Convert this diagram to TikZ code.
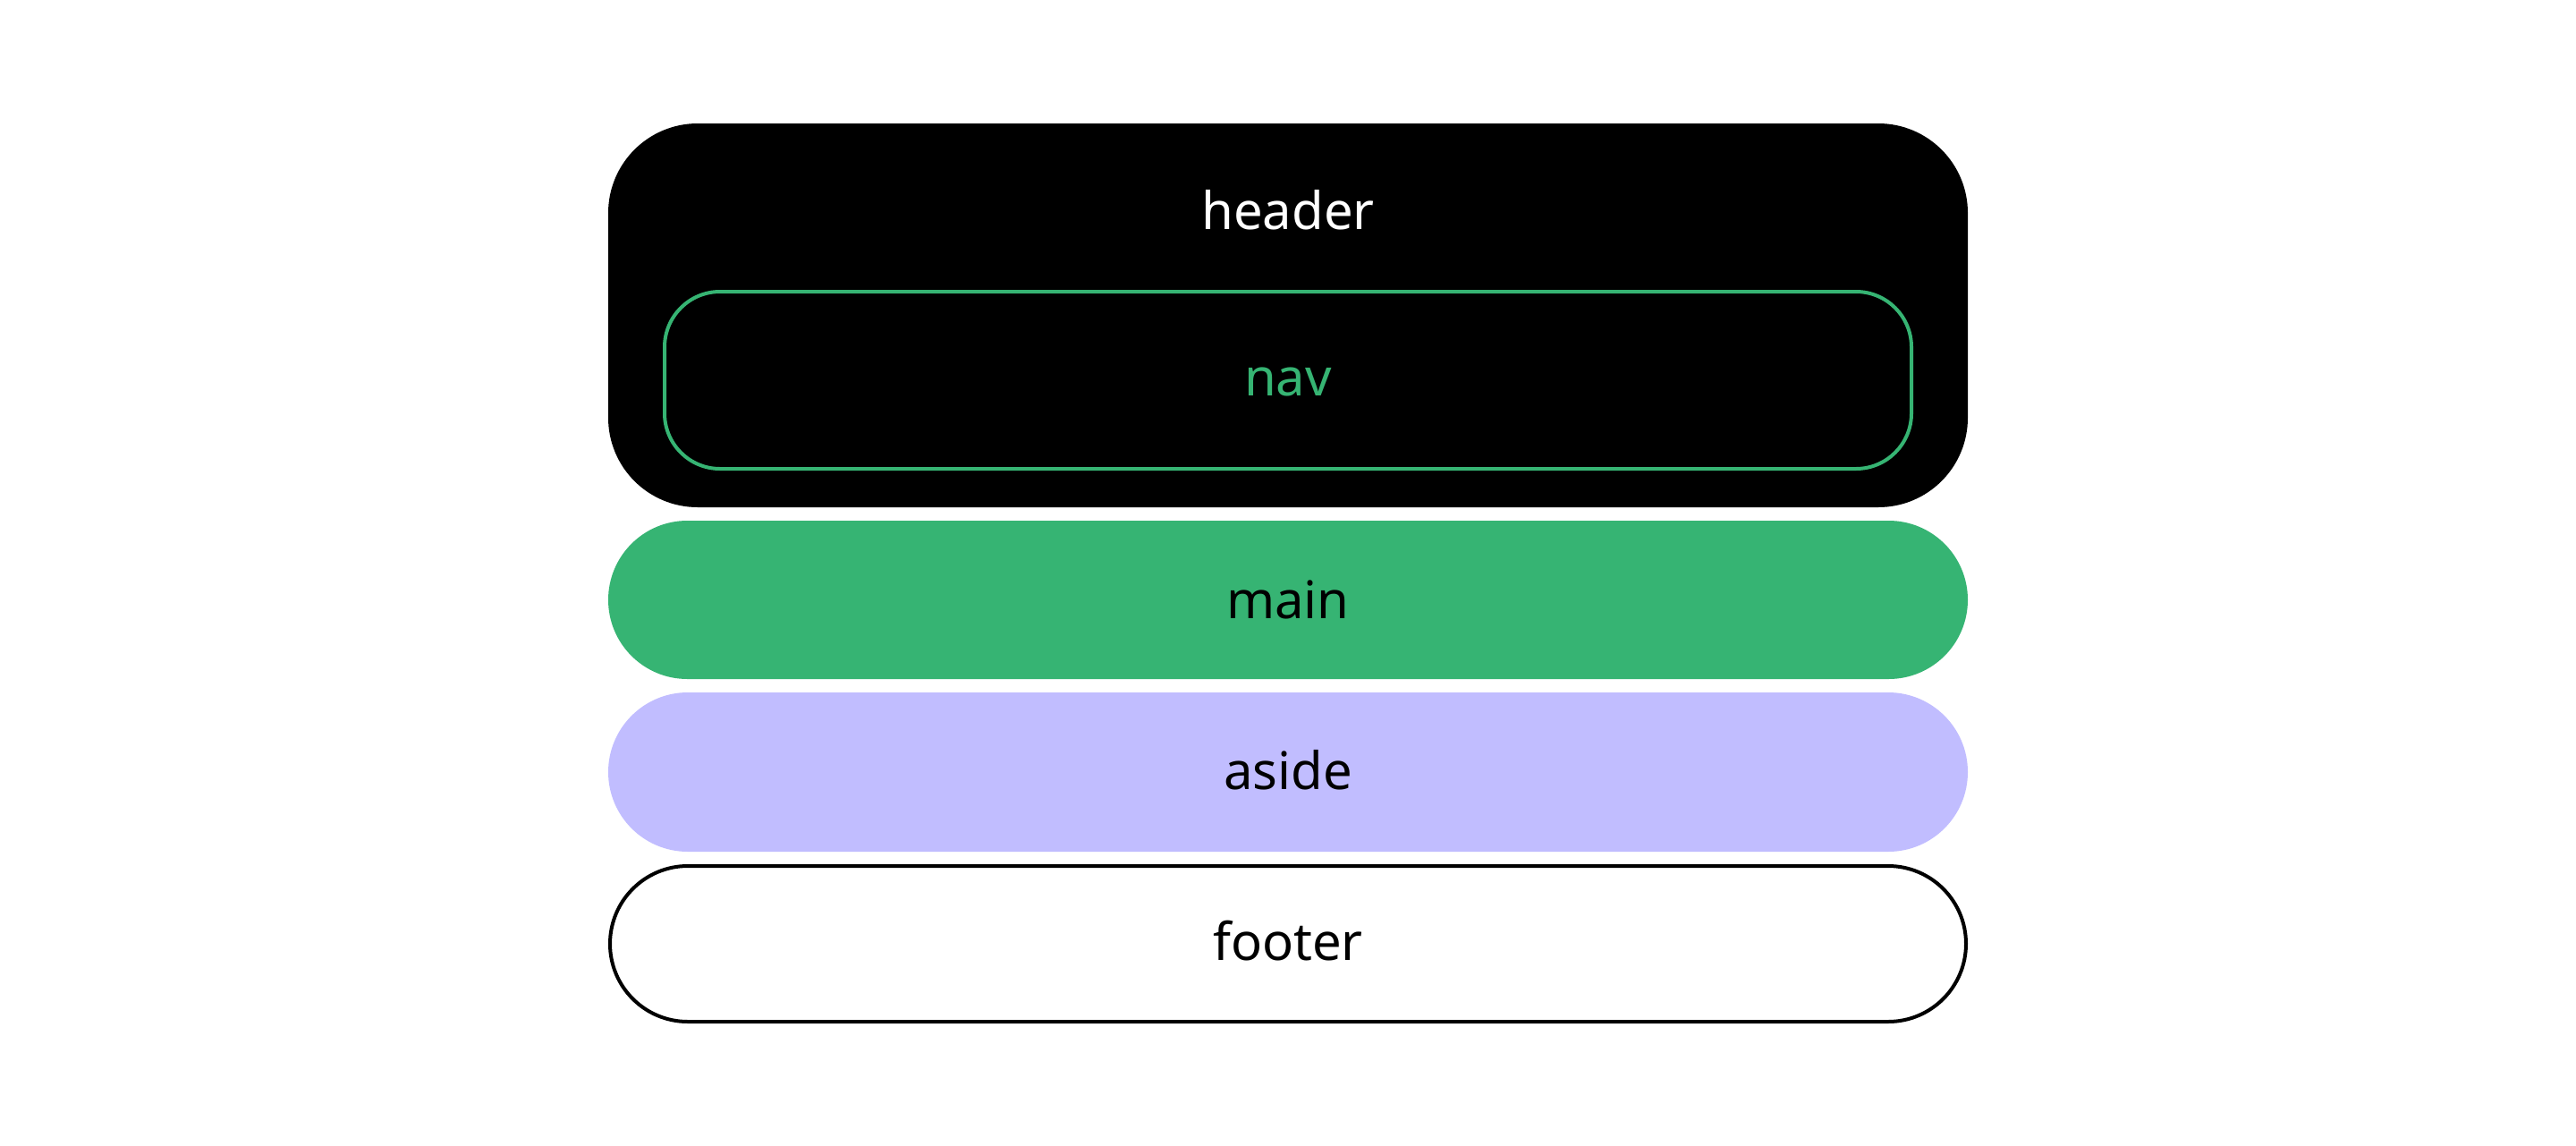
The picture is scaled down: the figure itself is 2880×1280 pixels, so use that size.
\documentclass[tikz,border=0pt]{standalone}
\usepackage{fontspec}
\setmainfont{Noto Sans}
\definecolor{lgreen}{HTML}{36B473}
\definecolor{lav}{HTML}{C1BDFF}
\begin{document}
\begin{tikzpicture}[x=0.5pt,y=-0.5pt,
  band/.style={rectangle, inner sep=0pt, outer sep=0pt, minimum width=760pt, minimum height=88.5pt, rounded corners=44.25pt},
  lbl/.style={anchor=base, inner sep=0pt, font=\fontsize{29pt}{34pt}\selectfont}]
\useasboundingbox (0,0) rectangle (2880,1280);
\fill[white] (0,0) rectangle (2880,1280);
\node[rectangle, inner sep=0pt, outer sep=0pt, minimum width=760pt, minimum height=214.5pt, rounded corners=50pt, fill=black] (header) at (1440,352.5) {};
\node[lbl, text=white] (headerlbl) at (1440,256) {header};
\node[rectangle, inner sep=0pt, minimum width=697pt, minimum height=99pt, rounded corners=31pt, draw=lgreen, line width=2pt] (nav) at (1440,425) {};
\node[lbl, text=lgreen] (navlbl) at (1440,442) {nav};
\node[band, fill=lgreen] (main) at (1440,670.5) {};
\node[lbl] (mainlbl) at (1440,691) {main};
\node[band, fill=lav, minimum height=89pt, rounded corners=44.5pt] (aside) at (1440,863) {};
\node[lbl] (asidelbl) at (1440,882) {aside};
\node[band, draw=black, line width=2pt, minimum width=758pt, minimum height=87pt, rounded corners=43.5pt] (footer) at (1440,1055) {};
\node[lbl] (footerlbl) at (1440,1073) {footer};
\end{tikzpicture}
\end{document}
